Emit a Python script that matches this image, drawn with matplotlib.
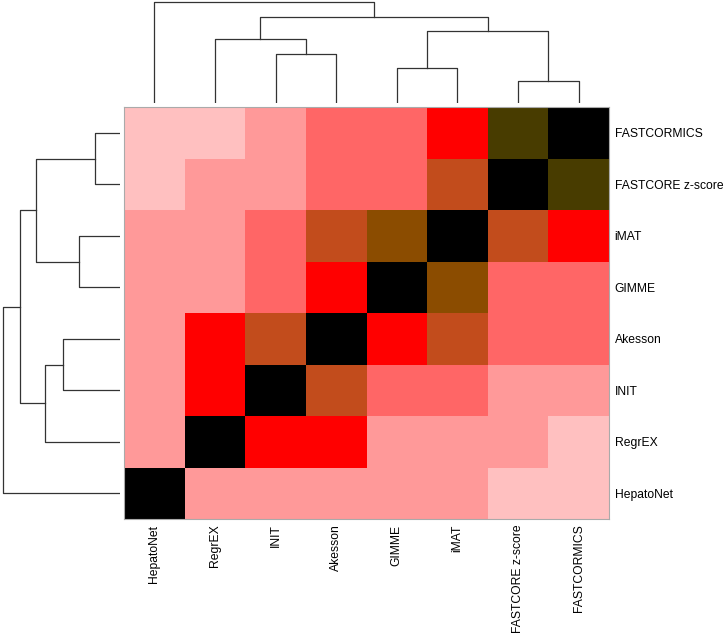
import matplotlib
matplotlib.use("Agg")
import matplotlib.pyplot as plt
from matplotlib.colors import ListedColormap, BoundaryNorm
import numpy as np

plt.rcParams['font.family'] = ['Liberation Sans', 'DejaVu Sans']

# column order (left to right) and row order (top to bottom)
col_labels = ["HepatoNet", "RegrEX", "INIT", "Akesson", "GIMME", "iMAT",
              "FASTCORE z-score", "FASTCORMICS"]
row_labels = ["FASTCORMICS", "FASTCORE z-score", "iMAT", "GIMME", "Akesson",
              "INIT", "RegrEX", "HepatoNet"]

# similarity level per cell (0 = lowest .. 7 = identical)
levels = [
    [0, 0, 1, 2, 2, 3, 6, 7],
    [0, 1, 1, 2, 2, 4, 7, 6],
    [1, 1, 2, 4, 5, 7, 4, 3],
    [1, 1, 2, 3, 7, 5, 2, 2],
    [1, 3, 4, 7, 3, 4, 2, 2],
    [1, 3, 7, 4, 2, 2, 1, 1],
    [1, 7, 3, 3, 1, 1, 1, 0],
    [7, 1, 1, 1, 1, 1, 0, 0],
]
level_colors = ["#ffc0c0", "#ff9999", "#ff6666", "#ff0000",
                "#c24c1c", "#8b4c00", "#483c00", "#000000"]

# dendrogram merges: (left child, right child, height); leaves 0..7 in display order
col_merges = [(6, 7, 22.0), (4, 5, 35.0), (2, 3, 49.0), (1, 10, 64.3),
              (9, 8, 72.0), (11, 12, 86.3), (0, 13, 101.0)]
row_merges = [(0, 1, 24.7), (2, 3, 40.7), (4, 5, 56.7), (10, 6, 74.7),
              (8, 9, 83.7), (12, 11, 100.0), (13, 7, 117.3)]


def dendro_segments(merges, n):
    pos = {i: i + 0.5 for i in range(n)}
    hgt = {i: 0.0 for i in range(n)}
    segs = []
    for k, (a, b, h) in enumerate(merges):
        node = n + k
        segs.append(([pos[a], pos[a], pos[b], pos[b]], [hgt[a], h, h, hgt[b]]))
        pos[node] = (pos[a] + pos[b]) / 2
        hgt[node] = h
    return segs


W, H = 726, 636
fig = plt.figure(figsize=(W / 100, H / 100), dpi=100)

hx0, hx1, hy0, hy1 = 124, 609, 107, 519


def px_axes(x0, y0, x1, y1):
    return fig.add_axes([x0 / W, 1 - y1 / H, (x1 - x0) / W, (y1 - y0) / H])


ax = px_axes(hx0, hy0, hx1, hy1)
cmap = ListedColormap(level_colors)
norm = BoundaryNorm(np.arange(-0.5, 8.5, 1), cmap.N)
ax.pcolormesh(np.arange(9), np.arange(9), np.array(levels), cmap=cmap, norm=norm)
ax.set_xlim(0, 8)
ax.set_ylim(8, 0)
ax.set_xticks(np.arange(8) + 0.5)
ax.set_xticklabels(col_labels, rotation=90, fontsize=8.7)
ax.set_yticks(np.arange(8) + 0.5)
ax.set_yticklabels(row_labels, fontsize=8.7)
ax.yaxis.tick_right()
ax.tick_params(length=0, pad=4)
for s in ax.spines.values():
    s.set_color("#aaaaaa")
    s.set_linewidth(0.8)

# column dendrogram
axc = px_axes(hx0, 0, hx1, 103.3)
for xs, ys in dendro_segments(col_merges, 8):
    axc.plot(xs, ys, color="#333333", lw=0.9)
axc.set_xlim(0, 8)
axc.set_ylim(0, 103.3)
axc.axis("off")

# row dendrogram
axr = px_axes(0, hy0, 120, hy1)
for ys, xs in dendro_segments(row_merges, 8):
    axr.plot(xs, ys, color="#333333", lw=0.9)
axr.set_ylim(8, 0)
axr.set_xlim(120, 0)
axr.axis("off")

fig.savefig("out.png", dpi=100)
